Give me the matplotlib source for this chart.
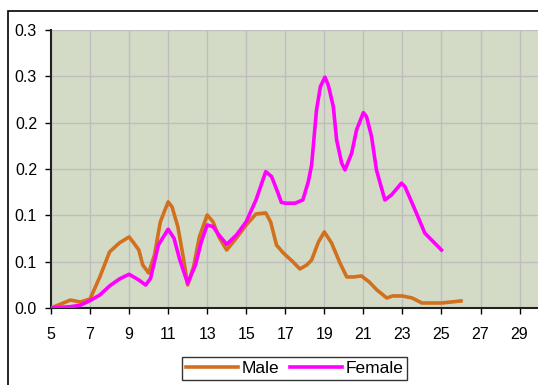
import numpy as np
import matplotlib.pyplot as plt
from matplotlib.patches import Rectangle

plt.rcParams['font.family'] = ['Liberation Sans', 'DejaVu Sans']

# Male curve (age, share)
male_x = [5, 5.5, 6, 6.5, 7, 7.5, 8, 8.5, 9, 9.2, 9.5, 9.7, 10, 10.3, 10.6, 11, 11.2,
          11.5, 11.8, 12, 12.3, 12.6, 13, 13.3, 13.6, 14, 14.5, 15, 15.5, 16, 16.25,
          16.55, 16.9, 17.4, 17.75, 18.1, 18.35, 18.7, 19.0, 19.37, 19.8, 20.15, 20.5,
          20.9, 21.3, 21.7, 22.2, 22.5, 23.0, 23.5, 24.0, 25.0, 26.0]
male_y = [0.0, 0.0043, 0.0086, 0.0065, 0.0097, 0.0335, 0.0605, 0.0702, 0.0767, 0.0713,
          0.0626, 0.0464, 0.0378, 0.0572, 0.0929, 0.1145, 0.1091, 0.0875, 0.0518, 0.0248,
          0.0443, 0.0767, 0.1004, 0.0929, 0.0767, 0.0626, 0.0756, 0.0896, 0.1015, 0.1026,
          0.0929, 0.0680, 0.0594, 0.0497, 0.0421, 0.0464, 0.0518, 0.0713, 0.0821, 0.0702,
          0.0486, 0.0335, 0.0335, 0.0346, 0.0281, 0.0194, 0.0108, 0.0130, 0.0130, 0.0108,
          0.0054, 0.0054, 0.0076]

# Female curve
female_x = [5, 6, 6.5, 7, 7.5, 8, 8.5, 9, 9.5, 9.85, 10.1, 10.5, 11, 11.3, 11.6, 12,
            12.4, 12.7, 13, 13.3, 13.6, 14, 14.5, 15, 15.5, 16, 16.3, 16.6, 16.8, 17,
            17.5, 17.9, 18.18, 18.35, 18.6, 18.8, 19.03, 19.2, 19.46, 19.63, 19.89,
            20.06, 20.4, 20.65, 21.0, 21.16, 21.42, 21.67, 22.1, 22.44, 22.95, 23.13,
            23.72, 24.15, 25.0]
female_y = [0.0, 0.0014, 0.003, 0.008, 0.014, 0.0238, 0.0313, 0.0364, 0.0302, 0.0248,
            0.032, 0.068, 0.085, 0.0753, 0.0518, 0.0267, 0.0464, 0.0716, 0.0896, 0.0878,
            0.0788, 0.0688, 0.0788, 0.0932, 0.1166, 0.1472, 0.1418, 0.1256, 0.1140,
            0.1131, 0.1131, 0.1166, 0.1364, 0.1544, 0.2138, 0.239, 0.2491, 0.2408,
            0.2174, 0.1814, 0.1563, 0.149, 0.167, 0.1922, 0.2109, 0.2066, 0.185, 0.149,
            0.1166, 0.122, 0.1347, 0.131, 0.1023, 0.0807, 0.0626]

x_ticks = list(range(5, 30, 2))
y_ticks = [0, 0.05, 0.1, 0.15, 0.2, 0.25, 0.3]
y_labels = ['0.0', '0.1', '0.1', '0.2', '0.2', '0.3', '0.3']

fig = plt.figure(figsize=(5.38, 3.85), dpi=100)
fig.patches.append(Rectangle((8/538, -0.1), 1.2, (385-11)/385 + 0.1,
                             transform=fig.transFigure, fill=False,
                             edgecolor='black', linewidth=1.2))

ax = fig.add_axes([51/538, 0.2, 1.0 - 51/538 + 0.002, 0.722])
ax.set_facecolor('#D3DBC6')

ax.plot(male_x, male_y, color='#D2701E', linewidth=2.6, label='Male', zorder=3,
        solid_joinstyle='round')
ax.plot(female_x, female_y, color='#FF00FF', linewidth=2.6, label='Female', zorder=3,
        solid_joinstyle='round')

ax.set_xlim(5, 30)
ax.set_ylim(0, 0.3)
ax.set_xticks(x_ticks)
ax.set_yticks(y_ticks)
ax.set_yticklabels(y_labels)
ax.grid(True, color='#BEBEBE', linewidth=1.0)
ax.set_axisbelow(True)

for s in ['top', 'right']:
    ax.spines[s].set_visible(False)
ax.spines['left'].set_linewidth(1.5)
ax.spines['bottom'].set_linewidth(1.5)
ax.spines['left'].set_color('#222222')
ax.spines['bottom'].set_color('#222222')
ax.tick_params(axis='y', direction='out', length=4, width=1, pad=6, labelsize=11.5)
ax.tick_params(axis='x', direction='out', length=4, width=1, pad=10, labelsize=11.5)

leg = ax.legend(loc='center', bbox_to_anchor=(294.5/538, 16.5/385),
                bbox_transform=fig.transFigure, ncol=2, frameon=True,
                fancybox=False, edgecolor='black', fontsize=12.5,
                handlelength=3.0, handletextpad=0.2, columnspacing=0.6,
                borderpad=0.25)
leg.get_frame().set_linewidth(1.0)

fig.savefig('out.png', dpi=100)
